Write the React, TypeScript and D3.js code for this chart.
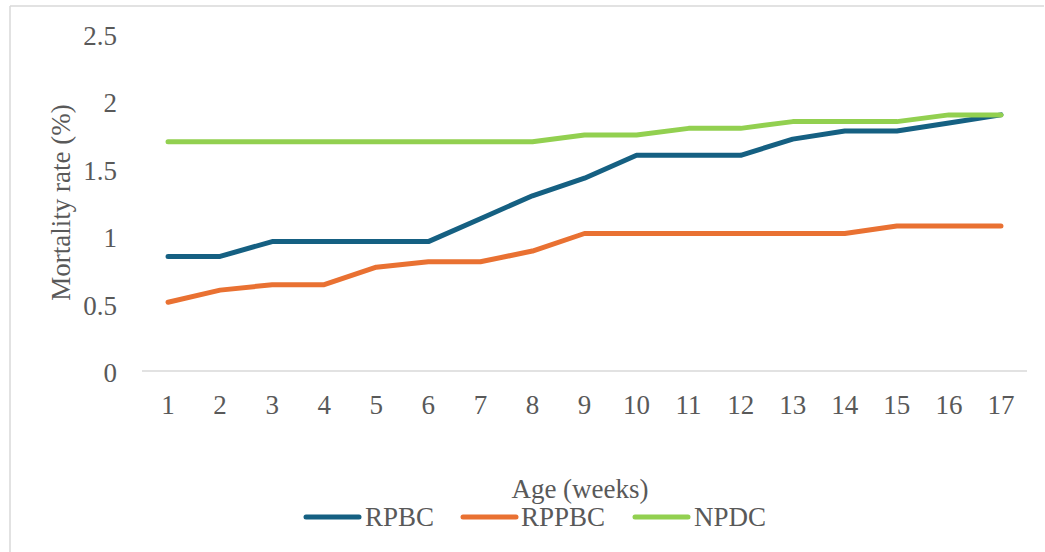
import React from "react";
import * as d3 from "d3";

const weeks = [1, 2, 3, 4, 5, 6, 7, 8, 9, 10, 11, 12, 13, 14, 15, 16, 17];
const rpbc = [0.85, 0.85, 0.96, 0.96, 0.96, 0.96, 1.13, 1.3, 1.43, 1.6, 1.6, 1.6, 1.72, 1.78, 1.78, 1.84, 1.9];
const rppbc = [0.51, 0.6, 0.64, 0.64, 0.77, 0.81, 0.81, 0.89, 1.02, 1.02, 1.02, 1.02, 1.02, 1.02, 1.075, 1.075, 1.075];
const npdc = [1.7, 1.7, 1.7, 1.7, 1.7, 1.7, 1.7, 1.7, 1.75, 1.75, 1.8, 1.8, 1.85, 1.85, 1.85, 1.9, 1.9];
const yTicks = [0, 0.5, 1, 1.5, 2, 2.5];

const seriesNames = ["RPBC", "RPPBC", "NPDC"];
const seriesValues = [rpbc, rppbc, npdc];
const seriesColors = ["#156082", "#E97132", "#92D050"];

const W = 1045;
const H = 552;
const FONT = "'Liberation Serif', 'Times New Roman', serif";
const TEXT = "#595959";

export default function App() {
  const x = d3.scaleBand<number>().domain(weeks).range([142, 1027]);
  const y = d3.scaleLinear().domain([0, 2.5]).range([371, 34]);
  const cx = (w: number) => (x(w) as number) + x.bandwidth() / 2;

  const line = d3
    .line<number>()
    .x((_, i) => cx(weeks[i]))
    .y((v) => y(v));

  const legendItems = [
    { lx: 306, tx: 365 },
    { lx: 463, tx: 521 },
    { lx: 635, tx: 694 },
  ];

  return (
    <svg
      width={W}
      height={H}
      style={{ position: "absolute", left: 0, top: 0, background: "#fff" }}
      fontFamily={FONT}
    >
      <rect x={0} y={0} width={W} height={H} fill="#fff" />
      {/* chart frame */}
      <line x1={10} y1={6} x2={1044} y2={6} stroke="#d9d9d9" strokeWidth={1.5} />
      <line x1={10} y1={6} x2={10} y2={H} stroke="#d9d9d9" strokeWidth={1.5} />

      {/* y tick labels */}
      {yTicks.map((t) => (
        <text key={t} x={117} y={y(t) + 11} textAnchor="end" fontSize={27} fill={TEXT}>
          {t}
        </text>
      ))}

      {/* baseline */}
      <line x1={142} x2={1027} y1={y(0)} y2={y(0)} stroke="#d9d9d9" strokeWidth={1.5} />

      {/* x tick labels */}
      {weeks.map((w) => (
        <text key={w} x={cx(w)} y={y(0) + 43} textAnchor="middle" fontSize={27} fill={TEXT}>
          {w}
        </text>
      ))}

      {/* series */}
      {seriesValues.map((vals, i) => (
        <path
          key={seriesNames[i]}
          d={line(vals) || ""}
          fill="none"
          stroke={seriesColors[i]}
          strokeWidth={5}
          strokeLinecap="round"
          strokeLinejoin="round"
        />
      ))}

      {/* axis titles */}
      <text
        transform={`translate(70, ${(y(0) + y(2.5)) / 2}) rotate(-90)`}
        textAnchor="middle"
        fontSize={27}
        fill={TEXT}
      >
        Mortality rate (%)
      </text>
      <text x={580} y={498} textAnchor="middle" fontSize={27} fill={TEXT}>
        Age (weeks)
      </text>

      {/* legend */}
      {legendItems.map((it, i) => (
        <g key={seriesNames[i]}>
          <line
            x1={it.lx}
            x2={it.lx + 53}
            y1={517}
            y2={517}
            stroke={seriesColors[i]}
            strokeWidth={5}
            strokeLinecap="round"
          />
          <text x={it.tx} y={526} fontSize={27} fill={TEXT}>
            {seriesNames[i]}
          </text>
        </g>
      ))}
    </svg>
  );
}
